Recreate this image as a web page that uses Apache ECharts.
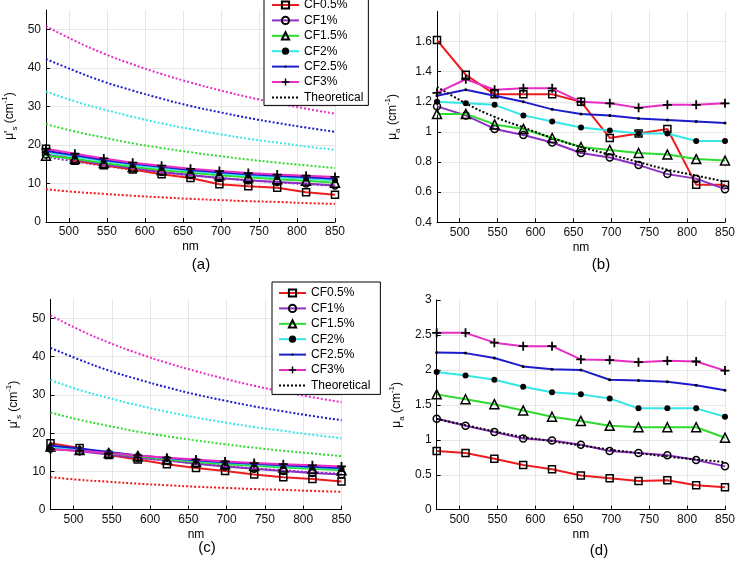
<!DOCTYPE html>
<html>
<head>
<meta charset="utf-8">
<title>CF phantoms - mu_s' and mu_a</title>
<script src="https://cdn.jsdelivr.net/npm/echarts@6/dist/echarts.min.js"></script>
<style>
    html, body { margin: 0; padding: 0; background: #fff; }
    #page { width: 738px; height: 562px; }
</style>
</head>
<body>
<div id="page"></div>
<script>
    var wavelengths = [470, 508, 546, 584, 622, 660, 698, 736, 774, 812, 850];
    var xTicks = [500, 550, 600, 650, 700, 750, 800, 850];
    var seriesNames = ['CF0.5%', 'CF1%', 'CF1.5%', 'CF2%', 'CF2.5%', 'CF3%'];

    // (a) mu_s' measured
    var aCF05 = [19.0, 15.9, 14.7, 13.6, 12.4, 11.4, 9.8, 9.3, 8.9, 7.7, 7.1];
    var aCF1 = [17.5, 16.3, 14.9, 14.0, 13.0, 12.2, 11.4, 10.8, 10.4, 10.0, 9.5];
    var aCF15 = [17.2, 16.4, 15.3, 14.3, 13.5, 12.8, 12.1, 11.6, 11.1, 10.7, 10.2];
    var aCF2 = [18.0, 16.9, 15.8, 14.8, 14.0, 13.2, 12.6, 12.0, 11.6, 11.2, 10.8];
    var aCF25 = [18.5, 17.3, 16.1, 15.1, 14.3, 13.5, 12.9, 12.4, 12.0, 11.6, 11.2];
    var aCF3 = [19.0, 17.7, 16.5, 15.4, 14.6, 13.8, 13.2, 12.7, 12.3, 12.0, 11.7];

    // (a)/(c) mu_s' theoretical, one per concentration
    var thCF05 = [8.5, 7.8, 7.3, 6.8, 6.4, 6.0, 5.7, 5.4, 5.2, 4.9, 4.7];
    var thCF1 = [16.9, 15.7, 14.6, 13.6, 12.8, 12.1, 11.4, 10.8, 10.3, 9.8, 9.4];
    var thCF15 = [25.4, 23.5, 21.9, 20.4, 19.2, 18.1, 17.1, 16.2, 15.4, 14.7, 14.0];
    var thCF2 = [33.9, 31.3, 29.2, 27.3, 25.6, 24.1, 22.8, 21.6, 20.6, 19.6, 18.7];
    var thCF25 = [42.3, 39.2, 36.4, 34.1, 32.0, 30.1, 28.5, 27.0, 25.7, 24.5, 23.4];
    var thCF3 = [50.8, 47.0, 43.7, 40.9, 38.4, 36.2, 34.2, 32.4, 30.8, 29.4, 28.1];

    // (b) mu_a measured
    var bCF05 = [1.61, 1.38, 1.25, 1.25, 1.25, 1.20, 0.96, 0.99, 1.02, 0.65, 0.65];
    var bCF1 = [1.17, 1.11, 1.02, 0.98, 0.93, 0.86, 0.83, 0.78, 0.72, 0.69, 0.62];
    var bCF15 = [1.12, 1.12, 1.05, 1.02, 0.96, 0.90, 0.88, 0.86, 0.85, 0.82, 0.81];
    var bCF2 = [1.20, 1.19, 1.18, 1.11, 1.07, 1.03, 1.01, 0.99, 0.99, 0.94, 0.94];
    var bCF25 = [1.24, 1.28, 1.24, 1.20, 1.15, 1.12, 1.11, 1.09, 1.08, 1.07, 1.06];
    var bCF3 = [1.26, 1.35, 1.28, 1.29, 1.29, 1.20, 1.19, 1.16, 1.18, 1.18, 1.19];
    var bTheory = [1.30, 1.19, 1.10, 1.03, 0.96, 0.90, 0.85, 0.80, 0.75, 0.71, 0.67];

    // (c) mu_s' measured
    var cCF05 = [17.4, 16.1, 14.3, 13.1, 11.9, 10.9, 10.1, 9.2, 8.5, 8.0, 7.4];
    var cCF1 = [16.0, 15.3, 14.4, 13.6, 12.9, 12.0, 11.3, 10.7, 10.1, 9.6, 9.2];
    var cCF15 = [16.5, 15.6, 14.8, 14.0, 13.1, 12.5, 11.9, 11.5, 11.0, 10.7, 10.3];
    var cCF2 = [16.4, 15.8, 15.0, 14.2, 13.4, 12.8, 12.3, 11.8, 11.4, 11.0, 10.7];
    var cCF25 = [16.8, 16.0, 15.1, 14.2, 13.5, 12.9, 12.4, 12.0, 11.6, 11.2, 10.9];
    var cCF3 = [15.8, 15.4, 14.8, 14.2, 13.6, 13.1, 12.6, 12.2, 11.9, 11.6, 11.3];

    // (d) mu_a measured
    var dCF05 = [0.84, 0.81, 0.73, 0.64, 0.58, 0.49, 0.45, 0.41, 0.42, 0.35, 0.32];
    var dCF1 = [1.30, 1.20, 1.11, 1.02, 0.99, 0.93, 0.84, 0.81, 0.78, 0.71, 0.62];
    var dCF15 = [1.65, 1.58, 1.51, 1.42, 1.33, 1.27, 1.20, 1.18, 1.18, 1.18, 1.03];
    var dCF2 = [1.97, 1.92, 1.86, 1.76, 1.68, 1.65, 1.59, 1.45, 1.45, 1.45, 1.33];
    var dCF25 = [2.25, 2.24, 2.17, 2.05, 2.01, 2.00, 1.86, 1.85, 1.83, 1.78, 1.71];
    var dCF3 = [2.53, 2.53, 2.39, 2.34, 2.34, 2.15, 2.14, 2.11, 2.13, 2.12, 1.99];
    var dTheory = [1.30, 1.21, 1.12, 1.04, 0.98, 0.92, 0.86, 0.81, 0.76, 0.72, 0.68];

    (function () {
        var font = 'Liberation Sans, Arial, sans-serif';
        var colors = ['#ee1c1c', '#8e2fc4', '#2ddc2d', '#35e6e6', '#1c1ccc', '#e82cc4'];
        var plus = 'path://M4,0H6V4H10V6H6V10H4V6H0V4H4Z';
        // small dot inside a larger (empty) box, so it stays small in the legend too
        var dot = 'path://M0,0M10,10M3.5,5A1.5,1.5,0,1,1,6.5,5A1.5,1.5,0,1,1,3.5,5Z';
        var hollow = 'rgba(0,0,0,0)';
        // marker per concentration (black edges, like the matlab figure)
        var marks = [
            {symbol: 'rect', size: 7, fill: hollow, border: 1.5},
            {symbol: 'circle', size: 7, fill: hollow, border: 1.5},
            {symbol: 'triangle', size: 9, fill: hollow, border: 1.5},
            {symbol: 'circle', size: 6, fill: '#000', border: 0},
            {symbol: dot, size: 10, fill: '#000', border: 0},
            {symbol: plus, size: 9, fill: '#000', border: 0}
        ];

        function pairs(vals) {
            var out = [];
            for (var i = 0; i < wavelengths.length; i++) {
                out.push([wavelengths[i], vals[i]]);
            }
            return out;
        }

        function measured(idx, grid, vals) {
            var m = marks[idx];
            return {
                name: seriesNames[idx],
                type: 'line',
                xAxisIndex: grid,
                yAxisIndex: grid,
                data: pairs(vals),
                symbol: m.symbol,
                symbolSize: m.size,
                showSymbol: true,
                lineStyle: {color: colors[idx], width: 2},
                itemStyle: {color: m.fill, borderColor: '#000', borderWidth: m.border},
                z: 3 + idx
            };
        }

        function theory(name, grid, vals, color) {
            return {
                name: name,
                type: 'line',
                xAxisIndex: grid,
                yAxisIndex: grid,
                data: pairs(vals),
                symbol: 'none',
                smooth: true,
                lineStyle: {color: color, width: 2, type: [2, 2]},
                itemStyle: {color: color},
                z: name === 'Theoretical' ? 10 : 2
            };
        }

        var grids = [
            {left: 45.5, top: 10, width: 289.5, height: 212},
            {left: 437, top: 11.5, width: 289, height: 210.8},
            {left: 50.5, top: 299.3, width: 291, height: 210.4},
            {left: 436.7, top: 300, width: 288.3, height: 209.7}
        ];

        var xAxes = grids.map(function (g, i) {
            return {
                type: 'value',
                gridIndex: i,
                min: 470,
                max: 850,
                name: 'nm',
                nameLocation: 'middle',
                nameGap: 19,
                nameTextStyle: {fontFamily: font, fontSize: 12, color: '#000'},
                axisLine: {lineStyle: {color: '#000', width: 1}},
                axisTick: {inside: true, length: 4, customValues: xTicks, lineStyle: {color: '#000'}},
                axisLabel: {customValues: xTicks, margin: 4, fontFamily: font, fontSize: 12, color: '#111'},
                splitLine: {show: true, lineStyle: {color: '#e6e6e6', width: 1}}
            };
        });

        var richMus = "{g|μ'}{sub|s}{g| (cm}{sup|-1}{g|)}";
        var richMua = "{g|μ}{sub|a}{g| (cm}{sup|-1}{g|)}";

        function yAxis(i, min, max, interval, name, gap) {
            return {
                type: 'value',
                gridIndex: i,
                min: min,
                max: max,
                interval: interval,
                name: name,
                nameLocation: 'middle',
                nameGap: gap,
                nameTextStyle: {
                    fontFamily: font, color: '#000',
                    rich: {
                        g: {fontFamily: font, fontSize: 12, lineHeight: 18, color: '#000'},
                        sub: {fontFamily: font, fontSize: 8, lineHeight: 10, verticalAlign: 'bottom', color: '#000'},
                        sup: {fontFamily: font, fontSize: 8, lineHeight: 10, verticalAlign: 'top', color: '#000'}
                    }
                },
                axisLine: {show: true, lineStyle: {color: '#000', width: 1}},
                axisTick: {show: true, inside: true, length: 4, lineStyle: {color: '#000'}},
                axisLabel: {margin: 5, showMaxLabel: max === 3, fontFamily: font, fontSize: 12, color: '#111'},
                splitLine: {show: true, showMaxLine: false, lineStyle: {color: '#e6e6e6', width: 1}}
            };
        }

        var yAxes = [
            yAxis(0, 0, 55, 10, richMus, 27),
            yAxis(1, 0.4, 1.8, 0.2, richMua, 35),
            yAxis(2, 0, 55, 10, richMus, 28),
            yAxis(3, 0, 3, 0.5, richMua, 31)
        ];

        var thA = [thCF05, thCF1, thCF15, thCF2, thCF25, thCF3];
        var series = [];
        // theoretical mu_s' curves for (a) and (c)
        [0, 2].forEach(function (g) {
            for (var k = 0; k < thA.length; k++) {
                series.push(theory('th' + k + '_' + g, g, thA[k], colors[k]));
            }
        });
        var panelData = [
            [aCF05, aCF1, aCF15, aCF2, aCF25, aCF3],
            [bCF05, bCF1, bCF15, bCF2, bCF25, bCF3],
            [cCF05, cCF1, cCF15, cCF2, cCF25, cCF3],
            [dCF05, dCF1, dCF15, dCF2, dCF25, dCF3]
        ];
        panelData.forEach(function (list, g) {
            list.forEach(function (vals, k) {
                series.push(measured(k, g, vals));
            });
        });
        series.push(theory('Theoretical', 1, bTheory, '#000'));
        series.push(theory('Theoretical', 3, dTheory, '#000'));

        // the line legend icon always adds a marker; hide it for the dotted one
        var legendData = seriesNames.map(function (n) { return {name: n}; });
        legendData.push({name: 'Theoretical', itemStyle: {color: hollow, borderColor: hollow, borderWidth: 0}});

        function legend(left, top, padding) {
            return {
                orient: 'vertical',
                left: left,
                top: top,
                data: legendData,
                itemWidth: 27,
                itemHeight: 9,
                itemGap: 1.4,
                padding: padding,
                borderColor: '#000',
                borderWidth: 1,
                backgroundColor: '#fff',
                selectedMode: false,
                textStyle: {fontFamily: font, fontSize: 12, color: '#000', lineHeight: 14}
            };
        }

        var labels = [
            ['(a)', 201, 265], ['(b)', 601, 265], ['(c)', 207, 548], ['(d)', 599, 551]
        ];

        var chart = echarts.init(document.getElementById('page'));
        chart.setOption({
            animation: false,
            backgroundColor: '#fff',
            grid: grids,
            xAxis: xAxes,
            yAxis: yAxes,
            legend: [
                legend(264, -4, [2, 5, 1, 7]),
                legend(272, 282, [4, 10, 2, 6])
            ],
            graphic: labels.map(function (l) {
                return {
                    type: 'text', x: l[1], y: l[2], silent: true,
                    style: {text: l[0], fontFamily: font, fontSize: 15, fill: '#000', align: 'center', verticalAlign: 'middle'}
                };
            }),
            series: series
        });
    })();
</script>
</body>
</html>
